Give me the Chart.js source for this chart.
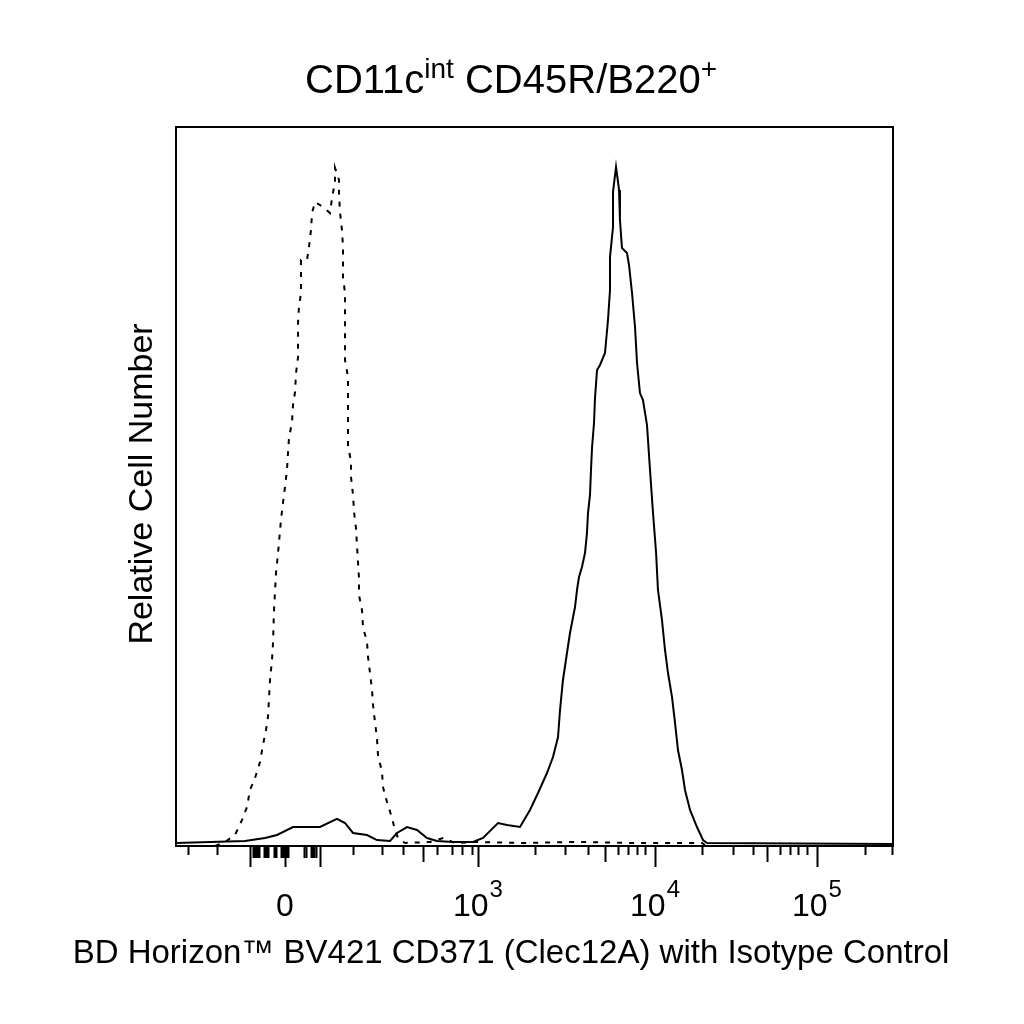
<!DOCTYPE html>
<html>
<head>
<meta charset="utf-8">
<script src="https://cdn.jsdelivr.net/npm/chart.js@4"></script>
<style>
  html, body { margin: 0; padding: 0; background: #fff; }
  #wrap { width: 1024px; height: 1024px; }
</style>
</head>
<body>
<div id="wrap"><canvas id="histChart" width="1024" height="1024"></canvas></div>
<script>
// x values are display channels (0-1000 across the plot, biexponential scale)
// y values are relative cell counts (0-100)
const isoX = [54.4, 68.3, 82.3, 92.1, 99.0, 103.2, 110.2, 117.2, 121.3, 125.5, 128.3, 129.7, 131.1, 133.9, 135.3,
  136.7, 139.5, 142.3, 146.4, 149.2, 152.0, 154.8, 156.2, 157.6, 161.8, 163.2, 166.0, 167.4, 170.2, 170.2, 170.2,
  171.5, 174.3, 174.3, 174.3, 182.7, 185.5, 188.3, 189.7, 193.9, 205.0, 214.8, 217.6, 221.8, 221.8, 227.3, 227.3,
  228.7, 231.5, 232.9, 232.9, 232.9, 235.7, 235.7, 235.7, 239.9, 239.9, 239.9, 244.1, 244.1, 246.9, 248.3, 251.0,
  252.4, 253.8, 255.2, 255.2, 259.4, 260.8, 266.4, 267.8, 270.6, 273.4, 274.8, 277.5, 280.3, 281.7, 287.3, 288.7,
  294.3, 301.3, 305.4, 309.6, 319.4, 354.3, 372.4, 389.1, 417.0, 480.0, 560.0, 640.0, 733.6, 737.8];
const isoY = [0, 0.56, 1.53, 3.62, 5.42, 7.79, 9.46, 11.68, 14.05, 16.13, 17.94, 20.58, 23.09, 25.87, 28.23,
  32.82, 37.97, 40.75, 45.34, 47.71, 49.93, 52.30, 54.66, 56.75, 58.97, 61.34, 63.14, 65.79, 68.01, 70.38, 72.74,
  74.97, 76.91, 79.14, 81.50, 81.50, 83.31, 85.67, 88.04, 89.57, 88.87, 88.04, 90.13, 92.35, 94.30, 92.63, 90.82,
  88.18, 85.67, 83.31, 81.09, 79.14, 76.91, 72.18, 67.59, 65.23, 60.64, 55.77, 53.41, 51.32, 48.82, 46.45, 44.23,
  41.86, 39.50, 37.27, 34.91, 32.82, 30.46, 28.37, 26.29, 24.06, 21.70, 19.61, 17.25, 15.02, 12.66, 10.29, 8.21,
  6.12, 3.89, 2.23, 1.11, 0.42, 0.56, 1.11, 0.42, 0.56, 0.42, 0.56, 0.42, 0.42, 0.14];

const stainX = [0, 96.2, 124.1, 140.9, 163.2, 200.8, 224.5, 235.7, 246.9, 266.4, 280.3, 298.5, 308.2, 322.2, 336.1,
  350.1, 364.0, 386.3, 414.2, 428.2, 449.1, 461.6, 479.8, 493.7, 504.9, 517.4, 525.8, 532.8, 535.6, 539.7, 545.3,
  549.5, 556.5, 559.3, 562.1, 566.2, 570.4, 573.2, 574.6, 577.4, 578.8, 580.2, 583.0, 584.4, 587.2, 591.4, 598.3,
  602.5, 605.3, 605.3, 609.5, 609.5, 613.7, 616.5, 617.9, 619.2, 622.0, 629.0, 631.8, 636.0, 640.2, 643.0, 647.1,
  651.3, 656.9, 661.1, 665.3, 669.5, 672.2, 677.8, 682.0, 686.2, 691.8, 696.0, 700.1, 705.7, 709.9, 716.9, 726.6,
  735.0, 740.6, 1000];
const stainY = [0.42, 0.70, 1.11, 1.53, 2.64, 2.64, 3.76, 3.20, 1.81, 1.53, 0.83, 0.70, 1.81, 2.64, 2.23,
  1.11, 0.70, 0.56, 0.56, 1.11, 3.20, 2.92, 2.64, 5.01, 7.37, 10.15, 12.38, 15.16, 18.92, 23.09, 26.84,
  29.62, 33.24, 35.61, 37.41, 38.80, 40.75, 43.53, 46.31, 48.82, 52.30, 55.35, 58.83, 62.31, 66.20, 66.90, 68.57,
  73.16, 77.33, 81.92, 86.09, 90.96, 94.44, 92.35, 91.24, 87.07, 83.17, 82.48, 80.81, 76.91, 72.18, 67.18, 63.00,
  62.03, 58.55, 52.30, 46.31, 40.89, 35.61, 31.43, 27.26, 24.06, 20.72, 17.11, 13.35, 10.57, 7.79, 5.01, 2.64,
  0.83, 0.42, 0.28];

// axis ticks (display channels)
const majorTicks = [152.0, 421.2, 668.1, 894.0];
const majorBase = ['0', '10', '10', '10'];
const majorExp = ['', '3', '4', '5'];
const longTicks = [103.2, 200.8];
const midTicks = [344.5, 598.3, 824.3];
// dense linear-region ticks around zero
const zeroTicks = [107.4, 108.8, 110.2, 111.6, 113.0, 114.4, 115.8, 122.7, 124.1, 125.5, 126.9, 128.3,
  136.7, 138.1, 139.5, 146.4, 147.8, 149.2, 150.6, 153.4, 154.8, 156.2, 178.5, 181.3, 188.3, 189.7,
  191.1, 192.5, 195.3];
const shortTicks = [16.7, 57.2, 246.9, 287.3, 316.6, 364.0, 384.9, 398.9, 412.8, 500.7, 542.5, 574.6, 616.5,
  630.4, 643.0, 654.1, 733.6, 776.8, 804.7, 842.4, 856.3, 867.5, 880.1, 961.0, 998.6];

const FONT = '"Liberation Sans", Arial, sans-serif';

const toPoints = (xs, ys) => xs.map((x, i) => ({ x: x, y: ys[i] }));

const decorPlugin = {
  id: 'decor',
  afterDraw(chart) {
    const ctx = chart.ctx;
    const area = chart.chartArea;
    const xs = chart.scales.x;
    ctx.save();
    ctx.strokeStyle = '#000';
    ctx.fillStyle = '#000';

    // frame
    ctx.lineWidth = 2;
    ctx.strokeRect(area.left, area.top, area.right - area.left, area.bottom - area.top);

    // ticks
    const drawTicks = (vals, len) => {
      vals.forEach(v => {
        const px = Math.round(xs.getPixelForValue(v)) + 0.5;
        ctx.beginPath();
        ctx.moveTo(px, area.bottom);
        ctx.lineTo(px, area.bottom + len);
        ctx.stroke();
      });
    };
    ctx.lineWidth = 2;
    drawTicks(shortTicks, 9);
    drawTicks(zeroTicks, 12);
    drawTicks(midTicks, 16);
    drawTicks(longTicks, 21);
    drawTicks(majorTicks, 21);

    // tick labels with superscripts
    ctx.textBaseline = 'alphabetic';
    ctx.textAlign = 'left';
    majorTicks.forEach((v, i) => {
      const px = xs.getPixelForValue(v);
      ctx.font = '32px ' + FONT;
      const wb = ctx.measureText(majorBase[i]).width;
      ctx.font = '24px ' + FONT;
      const we = majorExp[i] ? ctx.measureText(majorExp[i]).width + 1 : 0;
      const x0 = px - (wb + we) / 2;
      ctx.font = '32px ' + FONT;
      ctx.fillText(majorBase[i], x0, 916);
      if (majorExp[i]) {
        ctx.font = '24px ' + FONT;
        ctx.fillText(majorExp[i], x0 + wb + 1, 897);
      }
    });

    // title with superscripts
    const parts = [
      { t: 'CD11c', size: 40, dy: 0 },
      { t: 'int', size: 28, dy: -15 },
      { t: ' CD45R/B220', size: 40, dy: 0 },
      { t: '+', size: 28, dy: -15 }
    ];
    let total = 0;
    parts.forEach(p => { ctx.font = p.size + 'px ' + FONT; p.w = ctx.measureText(p.t).width; total += p.w; });
    let tx = 511 - total / 2;
    parts.forEach(p => {
      ctx.font = p.size + 'px ' + FONT;
      ctx.fillText(p.t, tx, 93 + p.dy);
      tx += p.w;
    });

    // x axis title
    ctx.font = '33px ' + FONT;
    ctx.textAlign = 'center';
    ctx.fillText('BD Horizon™ BV421 CD371 (Clec12A) with Isotype Control', 511, 963);

    // y axis title
    ctx.translate(152, 484);
    ctx.rotate(-Math.PI / 2);
    ctx.font = '34px ' + FONT;
    ctx.fillText('Relative Cell Number', 0, 0);
    ctx.restore();
  }
};

new Chart(document.getElementById('histChart').getContext('2d'), {
  type: 'line',
  data: {
    datasets: [
      {
        label: 'Isotype Control',
        data: toPoints(isoX, isoY),
        borderColor: '#000',
        borderWidth: 2,
        borderDash: [5, 7],
        pointRadius: 0,
        tension: 0,
        fill: false
      },
      {
        label: 'BV421 CD371',
        data: toPoints(stainX, stainY),
        borderColor: '#000',
        borderWidth: 2,
        pointRadius: 0,
        tension: 0,
        fill: false
      }
    ]
  },
  options: {
    responsive: false,
    animation: false,
    layout: { padding: { left: 176, right: 131, top: 127, bottom: 178 } },
    plugins: {
      legend: { display: false },
      tooltip: { enabled: false },
      title: { display: false }
    },
    scales: {
      x: { type: 'linear', min: 0, max: 1000, display: false },
      y: { type: 'linear', min: 0, max: 100, display: false }
    }
  },
  plugins: [decorPlugin]
});
</script>
</body>
</html>
